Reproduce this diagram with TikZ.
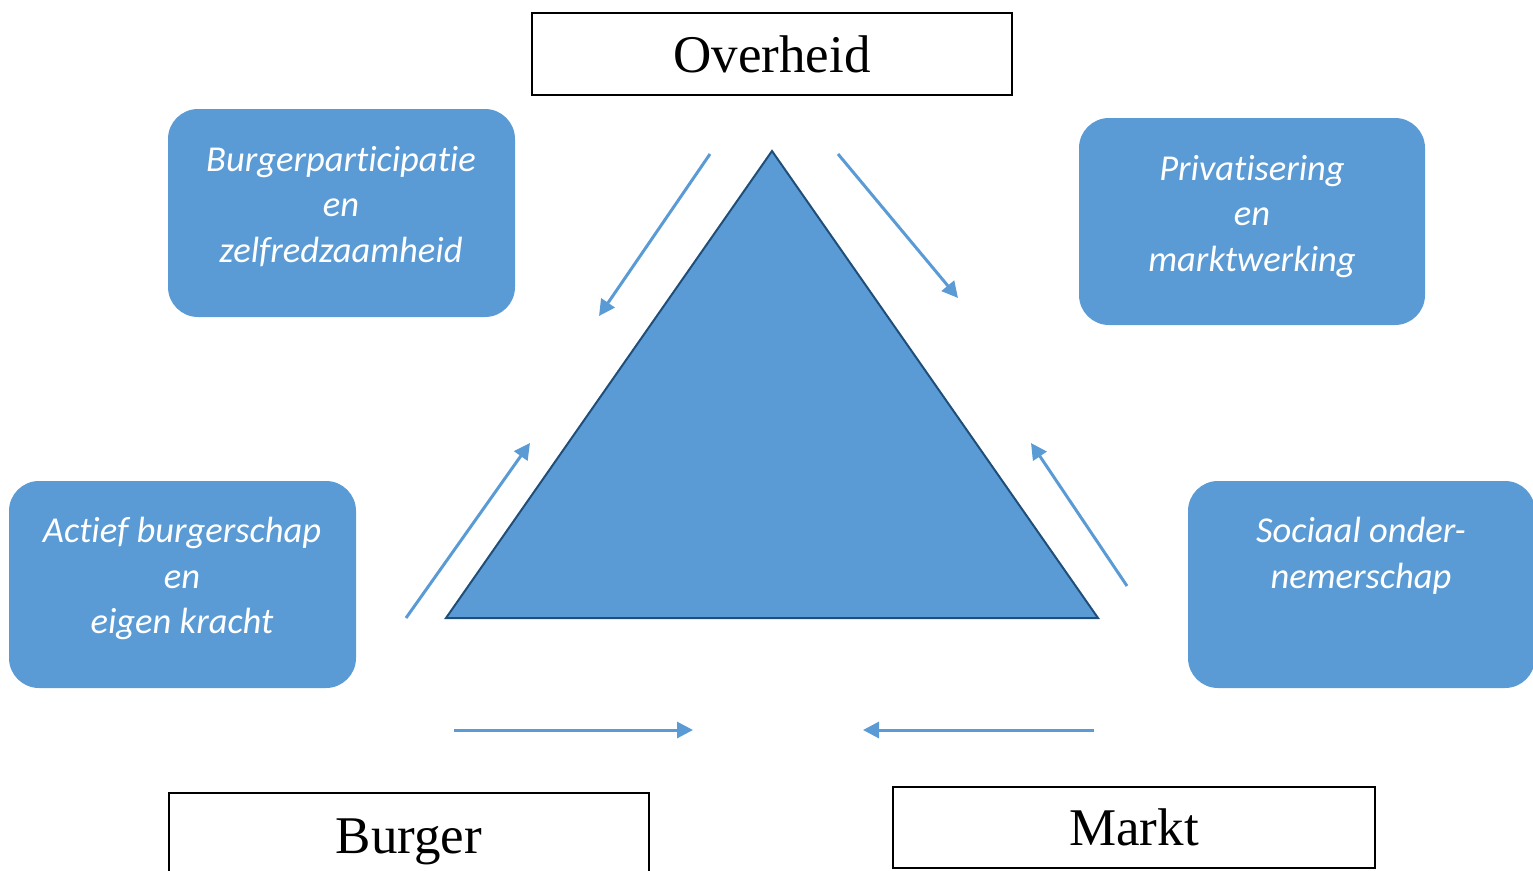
\documentclass[tikz,border=0pt]{standalone}
\usepackage{fontspec}
\setmainfont{Liberation Serif}
\newfontfamily\boxfont[Ligatures=NoCommon]{Carlito}
\usetikzlibrary{arrows.meta}
\definecolor{bluefill}{HTML}{5B9BD5}
\definecolor{bluedark}{HTML}{1F4E79}
\tikzset{
  labelbox/.style={draw=black, line width=1.5pt, fill=white, inner sep=0pt, font=\fontsize{53}{60}\selectfont},
  themebox/.style={fill=bluefill, rounded corners=30pt, inner sep=0pt, text=white, align=center, font=\boxfont\itshape\fontsize{36.5}{45.5}\selectfont},
  flowarrow/.style={draw=bluefill, line width=3pt, -{Triangle[length=16pt,width=16pt]}},
}
\begin{document}
\begin{tikzpicture}[x=1pt,y=-1pt]
\useasboundingbox (0,0) rectangle (1533,870);
% label boxes
\node[labelbox, minimum width=480pt, minimum height=82pt] (overheid) at (772,54) {Overheid};
\node[labelbox, minimum width=480pt, minimum height=98pt] (burger) at (409,842) {Burger};
\node[labelbox, minimum width=482pt, minimum height=81pt] (markt) at (1134,827.5) {Markt};
% theme boxes
\node[themebox, minimum width=347pt, minimum height=208pt] (bp) at (341.5,213) {};
\node[themebox, minimum width=346pt, minimum height=207pt] (pm) at (1252,221.5) {};
\node[themebox, minimum width=347pt, minimum height=207pt] (ab) at (182.5,584.5) {};
\node[themebox, minimum width=347pt, minimum height=207pt] (so) at (1361.5,584.5) {};
\node[themebox, fill=none, anchor=north] (bpt) at (341,146) {Burgerparticipatie\\en\\zelfredzaamheid};
\node[themebox, fill=none, anchor=north] (pmt) at (1252,155) {Privatisering\\en\\marktwerking};
\node[themebox, fill=none, anchor=north] (abt) at (182,517) {Actief burgerschap\\en\\eigen kracht};
\node[themebox, fill=none, anchor=north] (sot) at (1361,517) {Sociaal onder-\\nemerschap};
% triangle
\coordinate (apex) at (772,151);
\coordinate (bl) at (446,618);
\coordinate (br) at (1098,618);
\draw[fill=bluefill, draw=bluedark, line width=2pt, line join=miter] (apex) -- (bl) -- (br) -- cycle;
% arrows
\coordinate (a1s) at (710,154); \coordinate (a1e) at (599,316);
\coordinate (a2s) at (838,154); \coordinate (a2e) at (958,298);
\coordinate (a3s) at (406,618); \coordinate (a3e) at (530,443);
\coordinate (a4s) at (1127,586); \coordinate (a4e) at (1031,443);
\coordinate (a5s) at (454,730); \coordinate (a5e) at (693,730);
\coordinate (a6s) at (1094,730); \coordinate (a6e) at (863,730);
\draw[flowarrow] (a1s) -- (a1e);
\draw[flowarrow] (a2s) -- (a2e);
\draw[flowarrow] (a3s) -- (a3e);
\draw[flowarrow] (a4s) -- (a4e);
\draw[flowarrow] (a5s) -- (a5e);
\draw[flowarrow] (a6s) -- (a6e);
\end{tikzpicture}
\end{document}
